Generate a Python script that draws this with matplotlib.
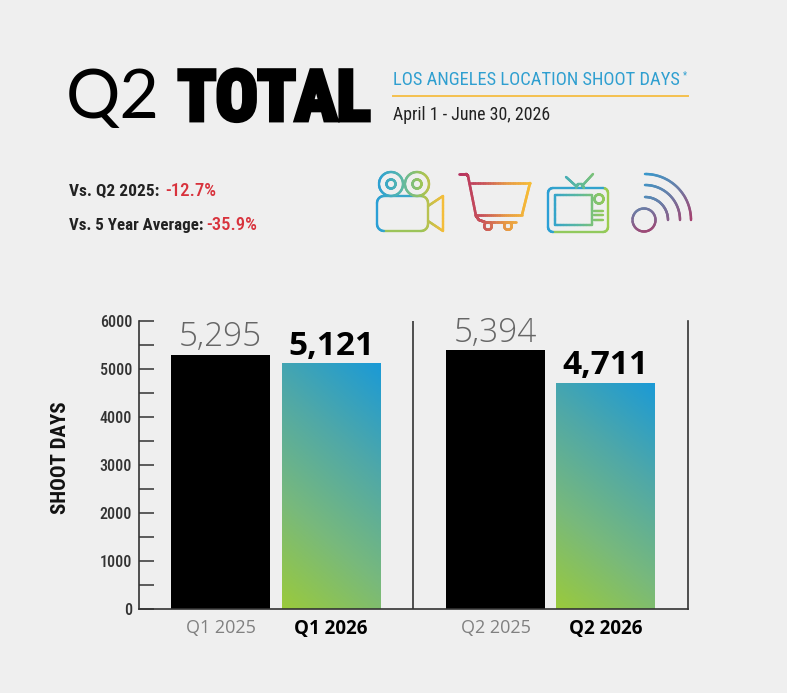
import numpy as np
import matplotlib
matplotlib.use("Agg")
import matplotlib.pyplot as plt
import matplotlib.patheffects as pe
from matplotlib.collections import LineCollection
from matplotlib.colors import LinearSegmentedColormap

quarters = ["Q1 2025", "Q1 2026", "Q2 2025", "Q2 2026"]
shoot_days = [5295, 5121, 5394, 4711]
value_labels = ["5,295", "5,121", "5,394", "4,711"]
y_ticks = [0, 1000, 2000, 3000, 4000, 5000, 6000]

BG = "#efefef"
NARROW = "Roboto Condensed"
W, H = 787, 693

fig = plt.figure(figsize=(W / 100, H / 100), dpi=100, facecolor=BG)

# chart axes, placed in picture pixels
ax_l, ax_r, ax_t, ax_b = 139, 688, 321, 609
ax = fig.add_axes([ax_l / W, 1 - ax_b / H, (ax_r - ax_l) / W, (ax_b - ax_t) / H], facecolor="none")
bar_x = [81.5, 192, 356.5, 466.5]
ax.set_xlim(0, ax_r - ax_l)
ax.set_ylim(0, 6000)

grad = LinearSegmentedColormap.from_list("bar", ["#9aca3c", "#78b97c", "#4fa8a8", "#1b9ad6"])
bars = ax.bar(bar_x, shoot_days, width=99, color=["black", "none", "black", "none"], linewidth=0)
for i in (1, 3):
    b = bars[i]
    x0, w, h = b.get_x(), b.get_width(), b.get_height()
    yy, xx = np.mgrid[0:1:200j, 0:1:100j]
    img = ax.imshow(0.74 * yy + 0.26 * xx, extent=[x0, x0 + w, 0, h], origin="lower",
                    aspect="auto", cmap=grad, vmin=0, vmax=1, zorder=2)
    img.set_clip_path(b)
ax.set_xlim(0, ax_r - ax_l)
ax.set_ylim(0, 6000)

for i, (x, v, lab) in enumerate(zip(bar_x, shoot_days, value_labels)):
    if i % 2 == 0:
        ax.text(x, v + 10, lab, ha="center", va="bottom", fontsize=24, color="#666666",
                family="Open Sans", weight=300)
    else:
        ax.text(x, v + 10, lab, ha="center", va="bottom", fontsize=24, color="black",
                family="Open Sans", weight=700)

ax.spines["top"].set_visible(False)
for s in ("left", "bottom", "right"):
    ax.spines[s].set_color("#333333")
    ax.spines[s].set_linewidth(1.2)
ax.axvline(413 - ax_l, color="#333333", lw=1.2)

ax.set_yticks(y_ticks)
ax.set_yticks([t + 500 for t in y_ticks[:-1]], minor=True)
ax.tick_params(axis="y", which="both", direction="in", length=11, width=1.1, color="#333333")
ax.tick_params(axis="y", which="major", pad=5, labelsize=11.5, labelcolor="#333333")
for t in ax.get_yticklabels():
    t.set_family(NARROW)
    t.set_weight(500)

ax.set_xticks(bar_x)
ax.set_xticklabels(quarters, family="Open Sans", fontsize=13)
ax.tick_params(axis="x", length=0, pad=7)
for i, t in enumerate(ax.get_xticklabels()):
    if i % 2 == 0:
        t.set_color("#808080")
    else:
        t.set_color("black")
        t.set_weight("bold")
        t.set_fontsize(13.5)

# overlay in picture pixels for the header and the icons
ov = fig.add_axes([0, 0, 1, 1], facecolor="none")
ov.set_xlim(0, W)
ov.set_ylim(H, 0)
ov.axis("off")

ov.text(60, 458, "SHOOT DAYS", rotation=90, ha="center", va="center", fontsize=15,
        family=NARROW, weight="bold", color="#111111")

ov.text(66, 118, "Q2", fontsize=49, family="Lato", weight=400, color="black",
        ha="left", va="baseline")
ov.text(178, 120, "TOTAL", fontsize=50, family=NARROW, weight="bold", color="black",
        ha="left", va="baseline",
        path_effects=[pe.withStroke(linewidth=3.5, foreground="black", joinstyle="miter")])
ov.text(393, 85, "LOS ANGELES LOCATION SHOOT DAYS", fontsize=13.3, family=NARROW,
        color="#2f9fd0", ha="left", va="baseline")
ov.text(683, 78, "*", fontsize=7, family=NARROW, color="#2f9fd0", ha="left", va="baseline")
ov.plot([393, 688], [95.5, 95.5], color="#f5c04e", lw=1.4)
ov.text(393, 120, "April 1 - June 30, 2026", fontsize=12.9, family=NARROW,
        color="#222222", ha="left", va="baseline")

ov.text(69, 196, "Vs. Q2 2025:", fontsize=12.5, family=NARROW, weight="bold",
        color="#222222", ha="left", va="baseline")
ov.text(165, 196, "-12.7%", fontsize=13.5, family=NARROW, weight=500, color="#d8323c",
        ha="left", va="baseline")
ov.text(69, 230, "Vs. 5 Year Average:", fontsize=12.2, family=NARROW, weight="bold",
        color="#222222", ha="left", va="baseline")
ov.text(206, 230, "-35.9%", fontsize=13.5, family=NARROW, weight=500, color="#d8323c",
        ha="left", va="baseline")

cam_cmap = LinearSegmentedColormap.from_list("cam", ["#2a9fd6", "#55b6b0", "#9cc45a", "#f4bd3a"])
cart_cmap = LinearSegmentedColormap.from_list("cart", ["#b5305f", "#c9555a", "#e79a45", "#f7bd35"])
tv_cmap = LinearSegmentedColormap.from_list("tv", ["#2a9fd6", "#5bb8a0", "#9ccc50"])
wifi_cmap = LinearSegmentedColormap.from_list("wifi", ["#2a9fd6", "#6a7fa8", "#b5305f"])


def stroke(xs, ys, cmap, box, vert=0.0, lw=1.7):
    # draw a polyline whose colour follows its position inside the icon box
    xs = np.asarray(xs, float)
    ys = np.asarray(ys, float)
    if len(xs) < 40:
        seg = np.linspace(0, 1, 25)
        xs = np.concatenate([xs[i] + (xs[i + 1] - xs[i]) * seg for i in range(len(xs) - 1)])
        ys = np.concatenate([ys[i] + (ys[i + 1] - ys[i]) * seg for i in range(len(ys) - 1)])
    pts = np.column_stack([xs, ys]).reshape(-1, 1, 2)
    segs = np.concatenate([pts[:-1], pts[1:]], axis=1)
    u = (xs[:-1] - box[0]) / (box[1] - box[0])
    v = (ys[:-1] - box[2]) / (box[3] - box[2])
    lc = LineCollection(segs, colors=cmap((1 - vert) * u + vert * v), linewidths=lw, capstyle="round")
    ov.add_collection(lc)


def circle(cx, cy, r, cmap, box, vert=0.0, lw=1.7):
    a = np.linspace(0, 2 * np.pi, 90)
    stroke(cx + r * np.cos(a), cy + r * np.sin(a), cmap, box, vert, lw)


def round_rect(x0, x1, y0, y1, r, cmap, box, vert=0.0, lw=1.7):
    a = np.linspace(0, np.pi / 2, 12)
    xs = np.concatenate([x1 - r + r * np.sin(a), x1 - r + r * np.cos(a), x0 + r - r * np.sin(a),
                         x0 + r - r * np.cos(a), [x1 - r]])
    ys = np.concatenate([y0 + r - r * np.cos(a), y1 - r + r * np.sin(a), y1 - r + r * np.cos(a),
                         y0 + r - r * np.sin(a), [y0]])
    stroke(xs, ys, cmap, box, vert, lw)


# camera
box = (377, 443, 172, 232)
round_rect(377, 428, 196, 231, 7, cam_cmap, box)
for cx in (391, 417):
    circle(cx, 184, 12, cam_cmap, box)
    circle(cx, 184, 4.5, cam_cmap, box)
stroke([428, 443, 443, 428], [206, 196, 231, 221], cam_cmap, box)

# cart
box = (459, 530, 174, 232)
stroke([459, 466, 468, 476, 479, 485, 516], [174, 174, 176, 216, 220, 222, 222], cart_cmap, box, lw=1.9)
stroke([470, 530, 522, 475], [183, 183, 215, 215], cart_cmap, box, lw=1.9)
circle(488, 226, 3.8, cart_cmap, box)
circle(508, 226, 3.8, cart_cmap, box)

# tv
box = (548, 608, 174, 232)
round_rect(548, 608, 188, 232, 5, tv_cmap, box)
stroke([555, 592, 592, 555, 555], [195, 195, 225, 225, 195], tv_cmap, box)
circle(599, 199, 4.5, tv_cmap, box)
for y in (211, 215, 220):
    stroke([594, 603], [y, y], tv_cmap, box)
stroke([566, 576], [177, 186], tv_cmap, box)
stroke([593, 582], [174, 186], tv_cmap, box)
stroke([576, 578, 582, 584], [188, 184, 184, 188], tv_cmap, box)

# signal
box = (632, 691, 174, 232)
circle(644, 220, 11.5, wifi_cmap, box, vert=0.8)
a = np.linspace(-np.pi / 2, 0, 50)
for r in (23, 35, 46):
    stroke(645 + r * np.cos(a), 220 + r * np.sin(a), wifi_cmap, box, vert=0.5, lw=1.8)

fig.savefig("out.png", dpi=100, facecolor=BG)
